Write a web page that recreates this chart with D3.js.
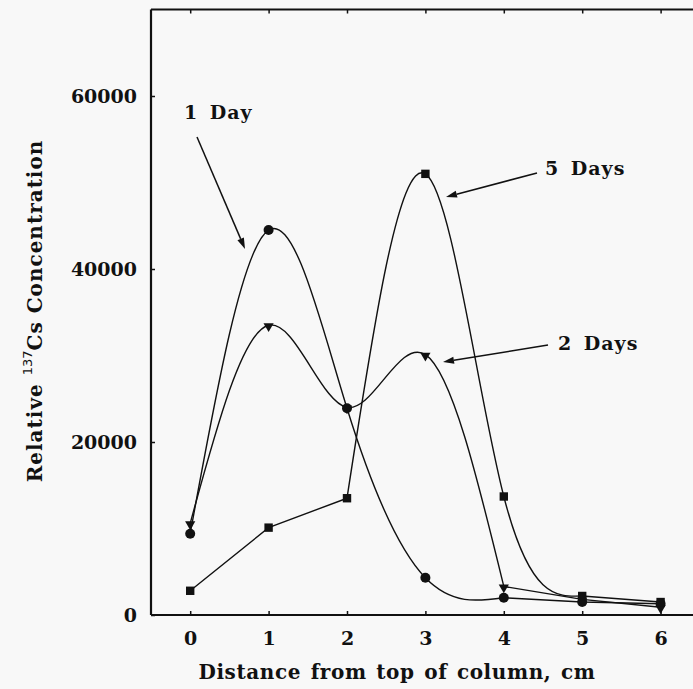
<!DOCTYPE html>
<html><head><meta charset="utf-8">
<script src="https://cdn.jsdelivr.net/npm/d3@7"></script>
<style>
html,body{margin:0;padding:0;background:#f8f8f8;}
svg{display:block;}
text{font-family:"DejaVu Serif","Liberation Serif",serif;font-weight:bold;fill:#111;}
</style></head>
<body>
<script>
// ---- data ----
const distances = [0, 1, 2, 3, 4, 5, 6];
const day1 = [9400, 44500, 23900, 4300, 2000, 1500, 1300];
const day2 = [10600, 33500, 24000, 30100, 3300, 1800, 900];
const day5 = [2800, 10100, 13500, 51000, 13700, 2200, 1500];
const seriesNames = ["1 Day", "2 Days", "5 Days"];
const xTicks = [0, 1, 2, 3, 4, 5, 6];
const yTicks = [0, 20000, 40000, 60000];
// segments drawn as splines (index ranges), the rest straight
const smoothRanges = [[0, 4], [0, 4], [2, 5]];

const W = 693, H = 689;
const svg = d3.select("body").append("svg").attr("width", W).attr("height", H);

const x = d3.scaleLinear().domain([-0.5, 6.5]).range([151, 699.8]);
const y = d3.scaleLinear().domain([0, 70000]).range([615, 9.5]);

// axes
const gL = svg.append("g").attr("transform", `translate(${x(-0.5)},0)`)
  .call(d3.axisLeft(y).tickValues(yTicks).tickSize(-4).tickPadding(14).tickFormat(d3.format("d")));
const gB = svg.append("g").attr("transform", `translate(0,${y(0)})`)
  .call(d3.axisBottom(x).tickValues(xTicks).tickSize(-4).tickPadding(17).tickFormat(d3.format("d")));
const gT = svg.append("g").attr("transform", `translate(0,${y(70000)})`)
  .call(d3.axisTop(x).tickValues(xTicks).tickSize(-4).tickFormat(""));
[gL, gB, gT].forEach(g => {
  g.selectAll(".domain").attr("stroke", "#111").attr("stroke-width", 2.2);
  g.selectAll(".tick line").attr("stroke", "#111").attr("stroke-width", 1.5);
  g.selectAll("text").style("font-size", "19px").attr("fill", "#111")
    .style("font-family", "'DejaVu Serif',serif").style("font-weight", "bold");
});
gL.selectAll(".domain").attr("d", `M0,${y(70000)}V${y(0)}`);
gB.selectAll(".domain").attr("d", `M${x(-0.5)},0H${x(6.5)}`);
gT.selectAll(".domain").attr("d", `M${x(-0.5)},0H${x(6.5)}`);

// curves
const all = [day1, day2, day5];
all.forEach((vals, si) => {
  const pts = distances.map((d, i) => [d, vals[i]]);
  const [a, b] = smoothRanges[si];
  const lin = d3.line().x(d => x(d[0])).y(d => y(d[1]));
  const nat = d3.line().x(d => x(d[0])).y(d => y(d[1])).curve(d3.curveNatural);
  const g = svg.append("g").attr("fill", "none").attr("stroke", "#111").attr("stroke-width", 1.4);
  if (a > 0) g.append("path").attr("d", lin(pts.slice(0, a + 1)));
  g.append("path").attr("d", nat(pts.slice(a, b + 1)));
  if (b < pts.length - 1) g.append("path").attr("d", lin(pts.slice(b)));
});

// markers
svg.append("g").selectAll("circle").data(day1).join("circle")
  .attr("cx", (d, i) => x(distances[i])).attr("cy", d => y(d)).attr("r", 5).attr("fill", "#111");
const tri = d3.symbol().type(d3.symbolTriangle).size(45);
svg.append("g").selectAll("path").data(day2).join("path")
  .attr("d", tri).attr("transform", (d, i) => `translate(${x(distances[i])},${y(d) + 1}) rotate(180)`).attr("fill", "#111");
svg.append("g").selectAll("rect").data(day5).join("rect")
  .attr("x", (d, i) => x(distances[i]) - 4.2).attr("y", d => y(d) - 4.2)
  .attr("width", 8.4).attr("height", 8.4).attr("fill", "#111");

// annotations with arrows
const ann = [
  {t: seriesNames[0], tx: 184, ty: 119, x1: 197, y1: 137, x2: 245, y2: 249},
  {t: seriesNames[2], tx: 545, ty: 175, x1: 537, y1: 173, x2: 446, y2: 197},
  {t: seriesNames[1], tx: 558, ty: 350, x1: 548, y1: 345, x2: 443, y2: 362}
];
ann.forEach(a => {
  svg.append("text").attr("x", a.tx).attr("y", a.ty).style("font-size", "19px")
    .style("letter-spacing", "1px").style("word-spacing", "4px").text(a.t);
  const ang = Math.atan2(a.y2 - a.y1, a.x2 - a.x1);
  const L = 11, Wd = 3.5;
  const bx = a.x2 - L * Math.cos(ang), by = a.y2 - L * Math.sin(ang);
  svg.append("line").attr("x1", a.x1).attr("y1", a.y1).attr("x2", bx).attr("y2", by)
    .attr("stroke", "#111").attr("stroke-width", 1.5);
  const px = -Math.sin(ang) * Wd, py = Math.cos(ang) * Wd;
  svg.append("path").attr("d", `M${a.x2},${a.y2}L${bx + px},${by + py}L${bx - px},${by - py}Z`).attr("fill", "#111");
});

// axis titles
svg.append("text").attr("x", 397).attr("y", 679).attr("text-anchor", "middle")
  .style("font-size", "20px").style("letter-spacing", "0.6px").style("word-spacing", "2px")
  .text("Distance from top of column, cm");
const yl = svg.append("text").attr("transform", "translate(42,311) rotate(-90)").attr("text-anchor", "middle")
  .style("font-size", "20px").style("letter-spacing", "1px");
yl.append("tspan").text("Relative  ");
yl.append("tspan").attr("dy", -10).style("font-size", "13px").style("font-family", "'DejaVu Sans',sans-serif").style("font-weight", "normal").style("letter-spacing", "0px").text("137");
yl.append("tspan").attr("dy", 10).text("Cs Concentration");
</script>
</body></html>
